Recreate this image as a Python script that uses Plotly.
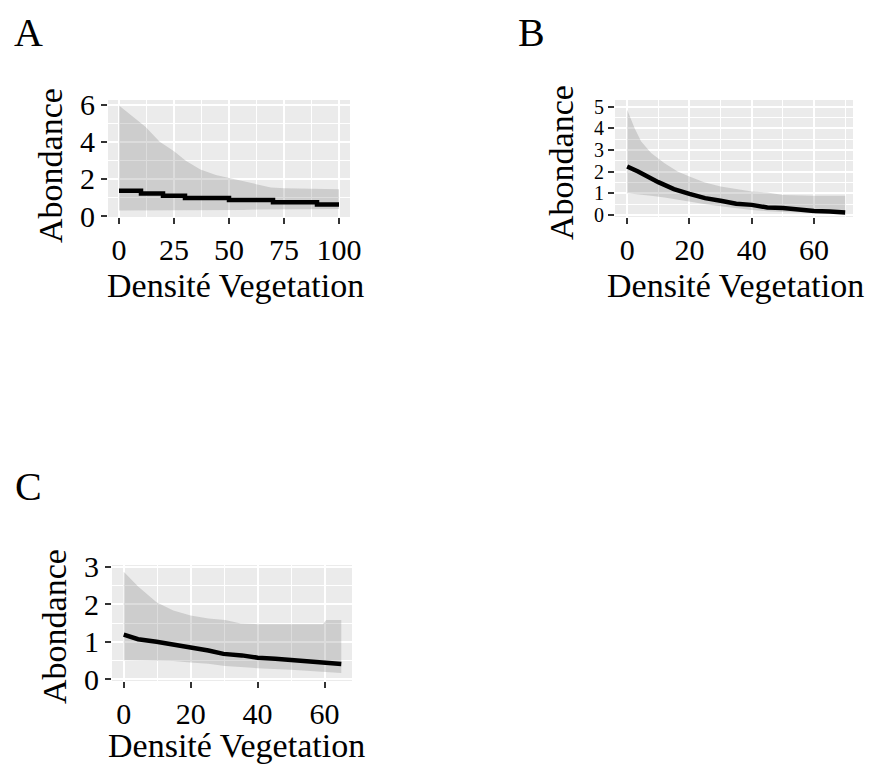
import plotly.graph_objects as go

# ---------------- data ----------------
# Panel A
xA_band = [0, 6.5, 12, 18.5, 25, 30.5, 37, 44, 50, 56, 63, 69, 75, 87, 100]
upperA = [5.96, 5.35, 4.81, 4.0, 3.49, 2.96, 2.51, 2.21, 2.04, 1.89, 1.68, 1.54, 1.5, 1.47, 1.45]
lowerA = [0.3, 0.3, 0.3, 0.3, 0.3, 0.3, 0.3, 0.3, 0.32, 0.33, 0.35, 0.36, 0.37, 0.38, 0.38]
xA_line = [0, 10, 20, 30, 50, 70, 90, 100]
lineA = [1.36, 1.22, 1.10, 0.97, 0.87, 0.74, 0.62, 0.62]

# Panel B
xB_band = [0, 2.4, 4.5, 7.7, 12, 16.2, 20, 24.7, 30, 35, 40, 45, 50, 60, 70]
upperB = [4.85, 4.0, 3.38, 2.85, 2.38, 2.0, 1.77, 1.5, 1.31, 1.18, 1.08, 1.03, 0.92, 0.88, 0.88]
lowerB = [1.0, 0.97, 0.93, 0.88, 0.8, 0.7, 0.6, 0.5, 0.4, 0.3, 0.22, 0.17, 0.13, 0.1, 0.08]
xB_line = [0, 3.5, 10, 15, 20, 25, 30, 35, 40, 45, 50, 55, 60, 65, 70]
lineB = [2.23, 2.0, 1.51, 1.19, 0.97, 0.77, 0.65, 0.51, 0.46, 0.34, 0.31, 0.23, 0.18, 0.15, 0.11]

# Panel C
xC_band = [0, 4.3, 9.8, 14.8, 20, 25.3, 30.3, 35, 40, 50, 59.5, 60.5, 65]
upperC = [2.86, 2.47, 2.05, 1.83, 1.7, 1.62, 1.58, 1.49, 1.47, 1.47, 1.47, 1.58, 1.58]
lowerC = [0.51, 0.5, 0.5, 0.49, 0.45, 0.42, 0.36, 0.33, 0.3, 0.26, 0.21, 0.2, 0.17]
xC_line = [0, 4.3, 9.8, 14.8, 20, 25.3, 29.8, 35.3, 40, 45.3, 50.3, 55.3, 60, 65]
lineC = [1.19, 1.07, 1.0, 0.94, 0.85, 0.77, 0.68, 0.64, 0.58, 0.55, 0.51, 0.47, 0.43, 0.41]

panel_letters = ["A", "B", "C"]
x_title = "Densité Vegetation"
y_title = "Abondance"

# ---------------- styling ----------------
W, H = 882, 766
OFF = 8  # page body margin in the browser
FONT = "Liberation Serif, Times New Roman, serif"
RIBBON = "rgba(110,110,110,0.24)"
PANEL_BG = "#EBEBEB"


def px_x(p):
    return (p - OFF) / W


def px_y(p):
    return 1 - (p - OFF) / H


fig = go.Figure()

panels = [
    ("x", "y", xA_band, upperA, lowerA, xA_line, lineA, "hv"),
    ("x2", "y2", xB_band, upperB, lowerB, xB_line, lineB, "linear"),
    ("x3", "y3", xC_band, upperC, lowerC, xC_line, lineC, "linear"),
]
for xa, ya, xb, up, lo, xl, yl, shape in panels:
    fig.add_trace(go.Scatter(x=xb, y=lo, xaxis=xa, yaxis=ya, mode="lines",
                             line=dict(width=0), showlegend=False, hoverinfo="skip"))
    fig.add_trace(go.Scatter(x=xb, y=up, xaxis=xa, yaxis=ya, mode="lines",
                             line=dict(width=0), fill="tonexty", fillcolor=RIBBON,
                             showlegend=False, hoverinfo="skip"))
    fig.add_trace(go.Scatter(x=xl, y=yl, xaxis=xa, yaxis=ya, mode="lines",
                             line=dict(color="black", width=4.5, shape=shape),
                             showlegend=False))


def axis(domain, rng, dtick, minor, anchor, fsize=30):
    return dict(domain=domain, range=rng, anchor=anchor, dtick=dtick, tick0=0,
                automargin=False,
                showgrid=True, gridcolor="white", gridwidth=2,
                minor=dict(dtick=minor, tick0=0, showgrid=True, gridcolor="white", gridwidth=1),
                zeroline=False, showline=False,
                ticks="outside", ticklen=6, tickwidth=2, tickcolor="#333333",
                tickfont=dict(family=FONT, size=fsize, color="black"))


# pixel boxes of the panels (left, right, top, bottom)
A_box = (108, 350, 100, 217)
B_box = (615, 853, 100, 217)
C_box = (112, 352, 565, 681)


def dom(box):
    l, r, t, b = box
    return [px_x(l), px_x(r)], [px_y(b), px_y(t)]


dAx, dAy = dom(A_box)
dBx, dBy = dom(B_box)
dCx, dCy = dom(C_box)

fig.update_layout(
    template="none",
    width=W, height=H, autosize=False,
    margin=dict(l=0, r=0, t=0, b=0, pad=0, autoexpand=False),
    paper_bgcolor="white", plot_bgcolor=PANEL_BG,
    showlegend=False,
    xaxis=axis(dAx, [-5, 105], 25, 12.5, "y"),
    yaxis=axis(dAy, [-0.05, 6.25], 2, 1, "x"),
    xaxis2=axis(dBx, [-3.9, 72.5], 20, 10, "y2"),
    yaxis2=axis(dBy, [-0.1, 5.3], 1, 0.5, "x2", fsize=20),
    xaxis3=axis(dCx, [-3.5, 68.2], 20, 10, "y3"),
    yaxis3=axis(dCy, [-0.04, 3.04], 1, 0.5, "x3"),
)

ann = []
# panel letters (A and B hang from the top edge so they are not clipped)
letter_pos = [(28, None), (531, None), (28, 486)]
for txt, (cx, cy) in zip(panel_letters, letter_pos):
    if cy is None:
        ann.append(dict(text=txt, x=px_x(cx), y=1, xref="paper", yref="paper",
                        showarrow=False, xanchor="center", yanchor="top",
                        font=dict(family=FONT, size=40, color="black")))
    else:
        ann.append(dict(text=txt, x=px_x(cx), y=px_y(cy), xref="paper", yref="paper",
                        showarrow=False, xanchor="center", yanchor="middle",
                        font=dict(family=FONT, size=40, color="black")))
# axis titles
for (cx, cy) in [(235, 286), (735, 285), (236, 745)]:
    ann.append(dict(text=x_title, x=px_x(cx), y=px_y(cy), xref="paper", yref="paper",
                    showarrow=False, xanchor="center", yanchor="middle",
                    font=dict(family=FONT, size=34, color="black")))
for (cx, cy) in [(50, 166), (561, 163), (54, 627)]:
    ann.append(dict(text=y_title, x=px_x(cx), y=px_y(cy), xref="paper", yref="paper",
                    showarrow=False, xanchor="center", yanchor="middle", textangle=-90,
                    font=dict(family=FONT, size=34, color="black")))
fig.update_layout(annotations=ann)

fig.write_html("out.html")
